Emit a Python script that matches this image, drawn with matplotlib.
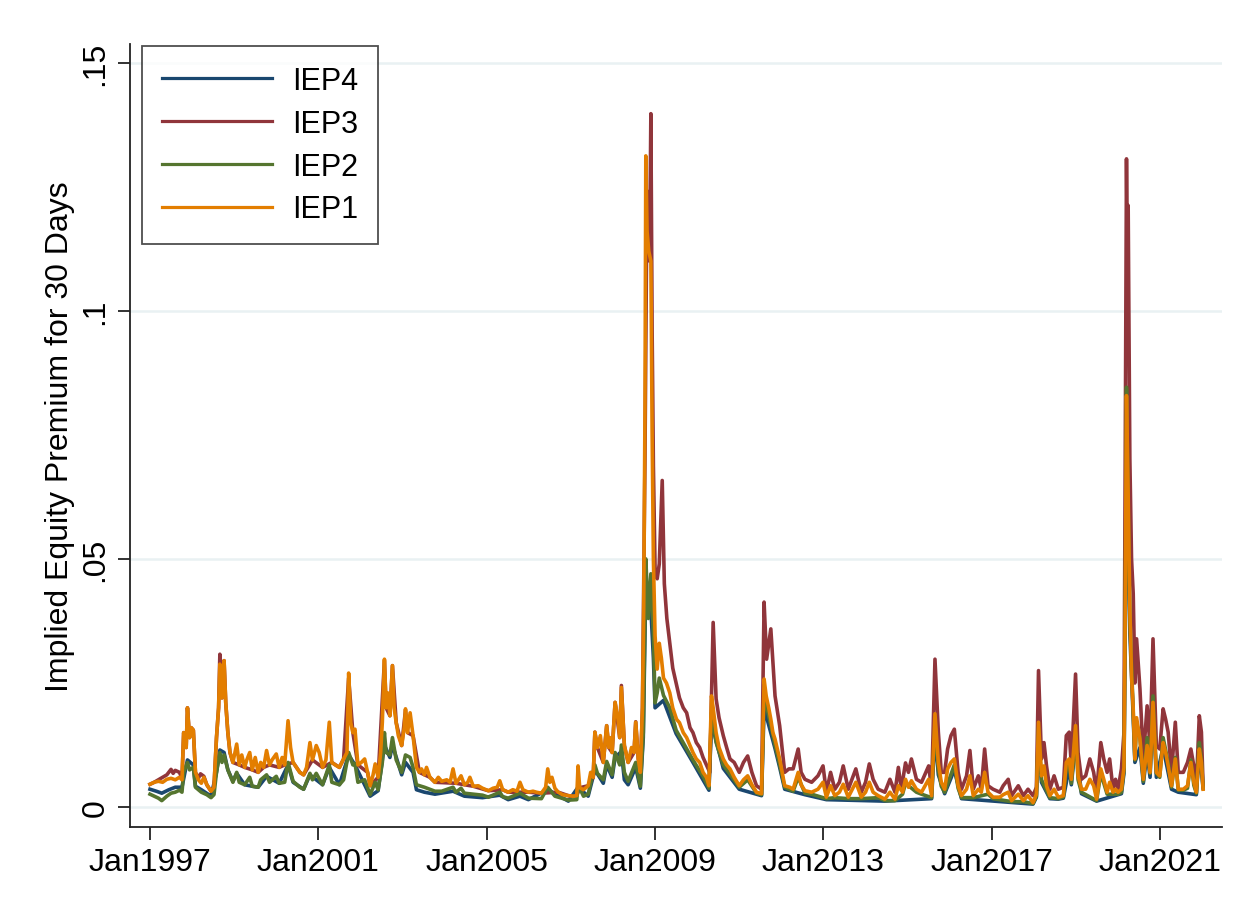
import matplotlib.pyplot as plt
import numpy as np

plt.rcParams['font.family'] = ['Liberation Sans', 'DejaVu Sans']

# ---------------- data (decimal years) ----------------

t1 = [1997.00, 1997.10, 1997.20, 1997.30, 1997.40, 1997.50, 1997.60, 1997.70, 1997.76, 1997.80,
      1997.86, 1997.89, 1997.94, 1997.98, 1998.03, 1998.08, 1998.15, 1998.22, 1998.28, 1998.35,
      1998.45, 1998.52, 1998.58, 1998.63, 1998.66, 1998.71, 1998.76, 1998.80, 1998.85, 1998.90,
      1998.97, 1999.06, 1999.12, 1999.18, 1999.25, 1999.30, 1999.37, 1999.43, 1999.50, 1999.57,
      1999.63, 1999.70, 1999.77, 1999.84, 1999.90, 2000.00, 2000.07, 2000.14, 2000.20, 2000.28,
      2000.34, 2000.40, 2000.48, 2000.56, 2000.65, 2000.72, 2000.80, 2000.86, 2000.95, 2001.02,
      2001.10, 2001.18, 2001.26, 2001.32, 2001.40, 2001.50, 2001.60, 2001.68, 2001.72, 2001.77,
      2001.82, 2001.87, 2001.94, 2002.02, 2002.10, 2002.17, 2002.23, 2002.30, 2002.35, 2002.42,
      2002.48, 2002.52, 2002.57, 2002.61, 2002.65, 2002.70, 2002.76, 2002.80, 2002.85, 2002.90,
      2002.98, 2003.04, 2003.07, 2003.12, 2003.18, 2003.25, 2003.33, 2003.40, 2003.45, 2003.52,
      2003.57, 2003.65, 2003.77, 2003.85, 2003.93, 2004.05, 2004.13, 2004.20, 2004.27, 2004.33,
      2004.39, 2004.47, 2004.55, 2004.60, 2004.68, 2004.80, 2004.90, 2005.04, 2005.15, 2005.25,
      2005.31, 2005.38, 2005.51, 2005.62, 2005.72, 2005.79, 2005.86, 2005.99, 2006.10, 2006.18,
      2006.30, 2006.40, 2006.45, 2006.50, 2006.55, 2006.62, 2006.70, 2006.80, 2006.94, 2007.05,
      2007.14, 2007.17, 2007.21, 2007.30, 2007.41, 2007.47, 2007.53, 2007.57, 2007.63, 2007.70,
      2007.77, 2007.85, 2007.90, 2007.93, 2007.98, 2008.05, 2008.12, 2008.16, 2008.20, 2008.27,
      2008.36, 2008.44, 2008.50, 2008.54, 2008.60, 2008.65, 2008.70, 2008.73, 2008.76, 2008.78,
      2008.81, 2008.85, 2008.90, 2008.93, 2008.96, 2009.00, 2009.05, 2009.10, 2009.15, 2009.20,
      2009.27, 2009.35, 2009.42, 2009.51, 2009.58, 2009.67, 2009.75, 2009.83, 2009.90, 2009.98,
      2010.06, 2010.14, 2010.22, 2010.28, 2010.34, 2010.38, 2010.45, 2010.52, 2010.62, 2010.70,
      2010.78, 2010.88, 2011.00, 2011.10, 2011.20, 2011.30, 2011.41, 2011.53, 2011.59, 2011.64,
      2011.70, 2011.75, 2011.80, 2011.85, 2011.96, 2012.08, 2012.20, 2012.28, 2012.40, 2012.47,
      2012.56, 2012.72, 2012.87, 2012.99, 2013.07, 2013.17, 2013.27, 2013.38, 2013.47, 2013.59,
      2013.77, 2013.90, 2014.00, 2014.09, 2014.18, 2014.30, 2014.46, 2014.58, 2014.70, 2014.78,
      2014.88, 2014.95, 2015.02, 2015.09, 2015.21, 2015.33, 2015.50, 2015.57, 2015.65, 2015.73,
      2015.80, 2015.88, 2015.95, 2016.03, 2016.11, 2016.20, 2016.28, 2016.40, 2016.48, 2016.56,
      2016.68, 2016.75, 2016.83, 2016.91, 2017.03, 2017.19, 2017.27, 2017.39, 2017.47, 2017.63,
      2017.75, 2017.86, 2017.98, 2018.06, 2018.11, 2018.18, 2018.24, 2018.30, 2018.38, 2018.48,
      2018.58, 2018.70, 2018.77, 2018.84, 2018.89, 2018.99, 2019.05, 2019.13, 2019.23, 2019.33,
      2019.42, 2019.49, 2019.59, 2019.66, 2019.74, 2019.80, 2019.88, 2019.94, 2020.00, 2020.08,
      2020.14, 2020.17, 2020.20, 2020.24, 2020.28, 2020.32, 2020.36, 2020.40, 2020.44, 2020.52,
      2020.60, 2020.69, 2020.76, 2020.83, 2020.91, 2020.99, 2021.07, 2021.13, 2021.19, 2021.27,
      2021.36, 2021.43, 2021.55, 2021.65, 2021.73, 2021.80, 2021.86, 2021.93, 2021.98, 2022.02]
iep1 = [0.0046, 0.0050, 0.0052, 0.0050, 0.0056, 0.0058, 0.0055, 0.0060, 0.0055, 0.0150,
        0.0120, 0.0200, 0.0140, 0.0160, 0.0155, 0.0070, 0.0055, 0.0048, 0.0060, 0.0045,
        0.0032, 0.0040, 0.0140, 0.0200, 0.0288, 0.0220, 0.0295, 0.0210, 0.0150, 0.0110,
        0.0090, 0.0127, 0.0085, 0.0105, 0.0080, 0.0095, 0.0110, 0.0075, 0.0100, 0.0070,
        0.0090, 0.0080, 0.0114, 0.0085, 0.0095, 0.0107, 0.0080, 0.0100, 0.0085, 0.0174,
        0.0120, 0.0090, 0.0080, 0.0070, 0.0065, 0.0080, 0.0130, 0.0095, 0.0124, 0.0110,
        0.0080, 0.0095, 0.0171, 0.0090, 0.0085, 0.0080, 0.0097, 0.0110, 0.0270, 0.0170,
        0.0150, 0.0157, 0.0085, 0.0090, 0.0097, 0.0070, 0.0043, 0.0065, 0.0087, 0.0060,
        0.0110, 0.0171, 0.0298, 0.0200, 0.0230, 0.0184, 0.0285, 0.0200, 0.0170, 0.0144,
        0.0124, 0.0160, 0.0198, 0.0150, 0.0190, 0.0144, 0.0080, 0.0070, 0.0077, 0.0065,
        0.0080, 0.0060, 0.0050, 0.0060, 0.0052, 0.0055, 0.0050, 0.0077, 0.0048, 0.0055,
        0.0063, 0.0045, 0.0050, 0.0060, 0.0042, 0.0043, 0.0038, 0.0033, 0.0038, 0.0040,
        0.0053, 0.0035, 0.0030, 0.0035, 0.0032, 0.0050, 0.0035, 0.0030, 0.0032, 0.0030,
        0.0028, 0.0040, 0.0077, 0.0050, 0.0060, 0.0038, 0.0030, 0.0025, 0.0023, 0.0022,
        0.0023, 0.0083, 0.0039, 0.0035, 0.0043, 0.0070, 0.0060, 0.0151, 0.0120, 0.0144,
        0.0090, 0.0164, 0.0120, 0.0140, 0.0110, 0.0211, 0.0177, 0.0140, 0.0241, 0.0124,
        0.0090, 0.0120, 0.0110, 0.0171, 0.0097, 0.0070, 0.0200, 0.0400, 0.0800, 0.1312,
        0.1160, 0.1120, 0.1100, 0.0756, 0.0500, 0.0345, 0.0278, 0.0330, 0.0300, 0.0260,
        0.0250, 0.0230, 0.0200, 0.0177, 0.0170, 0.0150, 0.0140, 0.0124, 0.0110, 0.0097,
        0.0090, 0.0070, 0.0060, 0.0043, 0.0224, 0.0200, 0.0150, 0.0120, 0.0097, 0.0085,
        0.0077, 0.0060, 0.0043, 0.0055, 0.0063, 0.0045, 0.0030, 0.0027, 0.0258, 0.0224,
        0.0200, 0.0177, 0.0150, 0.0137, 0.0097, 0.0043, 0.0040, 0.0036, 0.0070, 0.0045,
        0.0033, 0.0030, 0.0036, 0.0050, 0.0020, 0.0043, 0.0023, 0.0030, 0.0046, 0.0020,
        0.0050, 0.0020, 0.0030, 0.0050, 0.0030, 0.0023, 0.0016, 0.0030, 0.0016, 0.0043,
        0.0030, 0.0056, 0.0040, 0.0053, 0.0036, 0.0030, 0.0056, 0.0023, 0.0188, 0.0089,
        0.0050, 0.0036, 0.0077, 0.0090, 0.0097, 0.0043, 0.0023, 0.0036, 0.0063, 0.0023,
        0.0036, 0.0030, 0.0070, 0.0030, 0.0020, 0.0020, 0.0025, 0.0030, 0.0013, 0.0026,
        0.0013, 0.0023, 0.0009, 0.0026, 0.0171, 0.0063, 0.0083, 0.0043, 0.0023, 0.0036,
        0.0020, 0.0023, 0.0090, 0.0097, 0.0056, 0.0164, 0.0063, 0.0036, 0.0036, 0.0056,
        0.0043, 0.0016, 0.0077, 0.0056, 0.0030, 0.0050, 0.0030, 0.0036, 0.0030, 0.0036,
        0.0080, 0.0400, 0.0829, 0.0630, 0.0400, 0.0265, 0.0198, 0.0097, 0.0180, 0.0137,
        0.0056, 0.0124, 0.0070, 0.0211, 0.0070, 0.0063, 0.0130, 0.0110, 0.0083, 0.0043,
        0.0097, 0.0036, 0.0036, 0.0043, 0.0090, 0.0050, 0.0030, 0.0117, 0.0090, 0.0036]

t3 = [1997.00, 1997.10, 1997.20, 1997.30, 1997.40, 1997.50, 1997.55, 1997.60, 1997.70, 1997.76,
      1997.80, 1997.86, 1997.89, 1997.94, 1997.98, 1998.03, 1998.08, 1998.15, 1998.20, 1998.28,
      1998.35, 1998.45, 1998.52, 1998.58, 1998.63, 1998.66, 1998.71, 1998.76, 1998.80, 1998.85,
      1998.90, 1998.97, 1999.12, 1999.25, 1999.43, 1999.57, 1999.70, 1999.84, 2000.07, 2000.20,
      2000.40, 2000.56, 2000.65, 2000.86, 2001.10, 2001.32, 2001.50, 2001.60, 2001.72, 2001.82,
      2001.94, 2002.17, 2002.23, 2002.42, 2002.57, 2002.61, 2002.70, 2002.76, 2002.85, 2002.98,
      2003.07, 2003.12, 2003.25, 2003.40, 2003.65, 2003.77, 2004.27, 2004.47, 2004.68, 2005.04,
      2005.38, 2005.51, 2005.99, 2006.30, 2006.70, 2006.94, 2007.05, 2007.14, 2007.21, 2007.41,
      2007.53, 2007.57, 2007.63, 2007.77, 2007.85, 2007.90, 2007.98, 2008.05, 2008.16, 2008.20,
      2008.27, 2008.36, 2008.50, 2008.54, 2008.60, 2008.65,
      2008.70, 2008.76, 2008.80, 2008.84, 2008.87, 2008.90, 2008.93, 2008.96,
      2009.00, 2009.05, 2009.10, 2009.17, 2009.22, 2009.28, 2009.35, 2009.42, 2009.50, 2009.58,
      2009.67, 2009.75, 2009.83, 2009.90, 2009.98, 2010.06, 2010.14, 2010.22, 2010.30, 2010.38,
      2010.45, 2010.52, 2010.62, 2010.70, 2010.78, 2010.88, 2011.00, 2011.10, 2011.20, 2011.30,
      2011.41, 2011.53, 2011.59, 2011.65, 2011.75, 2011.85, 2011.96, 2012.08, 2012.18, 2012.28,
      2012.40, 2012.47, 2012.56, 2012.72, 2012.87, 2012.99, 2013.07, 2013.17, 2013.27, 2013.38,
      2013.47, 2013.59, 2013.77, 2013.90, 2014.00, 2014.09, 2014.18, 2014.30, 2014.46, 2014.58,
      2014.70, 2014.78, 2014.85, 2014.95, 2015.02, 2015.09, 2015.21, 2015.33, 2015.50, 2015.57,
      2015.65, 2015.73, 2015.80, 2015.88, 2015.95, 2016.03, 2016.11, 2016.20, 2016.28, 2016.40,
      2016.48, 2016.56, 2016.68, 2016.75, 2016.83, 2016.91, 2017.03, 2017.19, 2017.27, 2017.39,
      2017.47, 2017.63, 2017.75, 2017.86, 2017.98, 2018.06, 2018.11, 2018.18, 2018.24, 2018.30,
      2018.38, 2018.48, 2018.58, 2018.70, 2018.77, 2018.84, 2018.89, 2018.99, 2019.05, 2019.13,
      2019.23, 2019.33, 2019.42, 2019.49, 2019.59, 2019.66, 2019.74, 2019.80, 2019.88, 2019.94,
      2020.00, 2020.08, 2020.14, 2020.17, 2020.20, 2020.23, 2020.24, 2020.26, 2020.28, 2020.32,
      2020.36, 2020.40, 2020.44, 2020.52, 2020.60, 2020.69, 2020.76, 2020.83, 2020.91, 2020.99,
      2021.07, 2021.13, 2021.19, 2021.27, 2021.36, 2021.43, 2021.55, 2021.65, 2021.73, 2021.80,
      2021.86, 2021.93, 2021.98, 2022.02]
iep3 = [0.0046, 0.0050, 0.0055, 0.0060, 0.0065, 0.0076, 0.0068, 0.0074, 0.0070, 0.0058,
        0.0150, 0.0120, 0.0200, 0.0140, 0.0160, 0.0155, 0.0070, 0.0058, 0.0067, 0.0062,
        0.0045, 0.0032, 0.0040, 0.0140, 0.0200, 0.0308, 0.0220, 0.0295, 0.0210, 0.0150,
        0.0110, 0.0090, 0.0085, 0.0080, 0.0075, 0.0070, 0.0080, 0.0085, 0.0080, 0.0085,
        0.0090, 0.0070, 0.0065, 0.0095, 0.0080, 0.0090, 0.0080, 0.0097, 0.0260, 0.0150,
        0.0085, 0.0070, 0.0043, 0.0060, 0.0295, 0.0200, 0.0184, 0.0285, 0.0170, 0.0124,
        0.0195, 0.0150, 0.0144, 0.0070, 0.0060, 0.0050, 0.0048, 0.0045, 0.0042, 0.0033,
        0.0035, 0.0030, 0.0030, 0.0028, 0.0030, 0.0023, 0.0022, 0.0023, 0.0039, 0.0043,
        0.0060, 0.0151, 0.0120, 0.0090, 0.0164, 0.0120, 0.0110, 0.0211, 0.0140, 0.0245,
        0.0124, 0.0090, 0.0110, 0.0172, 0.0097, 0.0070,
        0.0200, 0.0700, 0.1150, 0.1240, 0.1100, 0.1397, 0.0960, 0.0688,
        0.0480, 0.0460, 0.0490, 0.0658, 0.0450, 0.0380, 0.0330, 0.0280, 0.0250, 0.0220,
        0.0200, 0.0190, 0.0160, 0.0150, 0.0130, 0.0120, 0.0100, 0.0085, 0.0070, 0.0372,
        0.0218, 0.0180, 0.0144, 0.0120, 0.0097, 0.0090, 0.0070, 0.0090, 0.0103, 0.0070,
        0.0043, 0.0036, 0.0413, 0.0298, 0.0359, 0.0224, 0.0164, 0.0070, 0.0077, 0.0077,
        0.0117, 0.0070, 0.0056, 0.0050, 0.0063, 0.0083, 0.0030, 0.0070, 0.0036, 0.0050,
        0.0083, 0.0036, 0.0077, 0.0030, 0.0050, 0.0087, 0.0056, 0.0036, 0.0030, 0.0056,
        0.0030, 0.0080, 0.0036, 0.0089, 0.0070, 0.0097, 0.0056, 0.0050, 0.0083, 0.0036,
        0.0298, 0.0151, 0.0070, 0.0070, 0.0117, 0.0144, 0.0157, 0.0070, 0.0036, 0.0063,
        0.0114, 0.0036, 0.0063, 0.0036, 0.0117, 0.0043, 0.0036, 0.0030, 0.0043, 0.0056,
        0.0023, 0.0043, 0.0023, 0.0036, 0.0023, 0.0040, 0.0275, 0.0097, 0.0130, 0.0083,
        0.0036, 0.0063, 0.0036, 0.0040, 0.0144, 0.0151, 0.0083, 0.0268, 0.0110, 0.0056,
        0.0063, 0.0097, 0.0070, 0.0030, 0.0130, 0.0097, 0.0070, 0.0097, 0.0036, 0.0056,
        0.0036, 0.0077, 0.0150, 0.0700, 0.1306, 0.1000, 0.1212, 0.0950, 0.0701, 0.0500,
        0.0430, 0.0250, 0.0339, 0.0238, 0.0097, 0.0204, 0.0120, 0.0339, 0.0124, 0.0117,
        0.0198, 0.0177, 0.0151, 0.0070, 0.0171, 0.0070, 0.0070, 0.0090, 0.0117, 0.0083,
        0.0043, 0.0184, 0.0151, 0.0043]

t2 = [1997.00, 1997.10, 1997.20, 1997.28, 1997.40, 1997.50, 1997.60, 1997.70, 1997.76, 1997.80,
      1997.89, 1997.94, 1998.03, 1998.08, 1998.22, 1998.35, 1998.45, 1998.52, 1998.58, 1998.66,
      1998.71, 1998.76, 1998.85, 1998.97, 1999.06, 1999.12, 1999.25, 1999.37, 1999.43, 1999.57,
      1999.63, 1999.77, 1999.84, 2000.00, 2000.07, 2000.20, 2000.28, 2000.40, 2000.56, 2000.65,
      2000.80, 2000.86, 2000.95, 2001.10, 2001.26, 2001.32, 2001.50, 2001.60, 2001.72, 2001.82,
      2001.87, 2001.94, 2002.10, 2002.23, 2002.35, 2002.42, 2002.52, 2002.57, 2002.61, 2002.70,
      2002.76, 2002.85, 2002.98, 2003.07, 2003.18, 2003.25, 2003.33, 2003.52, 2003.77, 2003.93,
      2004.20, 2004.27, 2004.39, 2004.47, 2004.68, 2004.90, 2005.04, 2005.31, 2005.38, 2005.51,
      2005.79, 2005.99, 2006.30, 2006.45, 2006.62, 2006.94, 2007.14, 2007.17, 2007.30, 2007.41,
      2007.57, 2007.63, 2007.77, 2007.85, 2007.98, 2008.05, 2008.16, 2008.20, 2008.27, 2008.36,
      2008.54, 2008.65, 2008.72, 2008.78, 2008.84, 2008.90, 2008.96, 2009.00, 2009.05, 2009.10,
      2009.20, 2009.35, 2009.50, 2009.70, 2009.90, 2010.14, 2010.28, 2010.34, 2010.45, 2010.62,
      2010.88, 2011.00, 2011.20, 2011.41, 2011.53, 2011.59, 2011.75, 2011.85, 2011.96, 2012.08,
      2012.28, 2012.40, 2012.56, 2012.72, 2013.07, 2013.27, 2013.59, 2013.90, 2014.30, 2014.46,
      2014.70, 2014.88, 2014.95, 2015.21, 2015.33, 2015.57, 2015.65, 2015.73, 2015.80, 2015.88,
      2016.11, 2016.20, 2016.28, 2016.56, 2016.91, 2017.03, 2017.47, 2017.75, 2017.98, 2018.06,
      2018.11, 2018.18, 2018.38, 2018.58, 2018.70, 2018.77, 2018.84, 2018.89, 2018.99, 2019.05,
      2019.13, 2019.49, 2019.59, 2019.74, 2019.88, 2020.00, 2020.08, 2020.14, 2020.17, 2020.20,
      2020.24, 2020.28, 2020.36, 2020.40, 2020.44, 2020.52, 2020.60, 2020.69, 2020.76, 2020.83,
      2020.91, 2020.99, 2021.07, 2021.19, 2021.27, 2021.36, 2021.43, 2021.55, 2021.65, 2021.73,
      2021.80, 2021.86, 2021.93, 2021.98, 2022.02]
iep2 = [0.0026, 0.0022, 0.0018, 0.0013, 0.0022, 0.0028, 0.0030, 0.0034, 0.0030, 0.0070,
        0.0090, 0.0075, 0.0080, 0.0040, 0.0030, 0.0025, 0.0019, 0.0025, 0.0070, 0.0110,
        0.0090, 0.0105, 0.0075, 0.0050, 0.0070, 0.0050, 0.0045, 0.0060, 0.0042, 0.0040,
        0.0055, 0.0065, 0.0050, 0.0062, 0.0048, 0.0050, 0.0090, 0.0052, 0.0040, 0.0036,
        0.0068, 0.0055, 0.0068, 0.0045, 0.0085, 0.0050, 0.0045, 0.0055, 0.0110, 0.0085,
        0.0088, 0.0050, 0.0055, 0.0025, 0.0050, 0.0035, 0.0090, 0.0150, 0.0110, 0.0105,
        0.0140, 0.0095, 0.0070, 0.0105, 0.0100, 0.0080, 0.0045, 0.0040, 0.0032, 0.0032,
        0.0040, 0.0030, 0.0038, 0.0028, 0.0026, 0.0024, 0.0020, 0.0030, 0.0021, 0.0018,
        0.0028, 0.0018, 0.0017, 0.0040, 0.0022, 0.0014, 0.0015, 0.0045, 0.0022, 0.0026,
        0.0085, 0.0068, 0.0055, 0.0092, 0.0065, 0.0110, 0.0085, 0.0125, 0.0070, 0.0052,
        0.0090, 0.0042, 0.0150, 0.0500, 0.0380, 0.0470, 0.0350, 0.0210, 0.0230, 0.0260,
        0.0225, 0.0200, 0.0155, 0.0125, 0.0095, 0.0062, 0.0038, 0.0190, 0.0130, 0.0085,
        0.0054, 0.0040, 0.0055, 0.0028, 0.0025, 0.0225, 0.0165, 0.0125, 0.0086, 0.0040,
        0.0032, 0.0060, 0.0028, 0.0026, 0.0017, 0.0019, 0.0017, 0.0017, 0.0019, 0.0013,
        0.0013, 0.0026, 0.0048, 0.0030, 0.0026, 0.0019, 0.0170, 0.0075, 0.0042, 0.0030,
        0.0085, 0.0038, 0.0019, 0.0019, 0.0026, 0.0017, 0.0011, 0.0011, 0.0007, 0.0022,
        0.0160, 0.0055, 0.0019, 0.0017, 0.0020, 0.0080, 0.0085, 0.0048, 0.0150, 0.0055,
        0.0030, 0.0013, 0.0068, 0.0026, 0.0026, 0.0026, 0.0030, 0.0075, 0.0380, 0.0846,
        0.0600, 0.0380, 0.0190, 0.0095, 0.0170, 0.0140, 0.0052, 0.0140, 0.0068, 0.0224,
        0.0068, 0.0060, 0.0140, 0.0090, 0.0040, 0.0100, 0.0034, 0.0034, 0.0038, 0.0095,
        0.0044, 0.0028, 0.0130, 0.0095, 0.0040]

t4 = [1997.00, 1997.15, 1997.28, 1997.45, 1997.60, 1997.76, 1997.89, 1998.03, 1998.08, 1998.22,
      1998.45, 1998.58, 1998.66, 1998.76, 1998.85, 1998.97, 1999.06, 1999.25, 1999.43, 1999.57,
      1999.77, 2000.07, 2000.28, 2000.40, 2000.65, 2000.80, 2001.10, 2001.26, 2001.50, 2001.72,
      2001.87, 2002.23, 2002.42, 2002.57, 2002.70, 2002.76, 2002.98, 2003.07, 2003.25, 2003.33,
      2003.52, 2003.77, 2004.20, 2004.47, 2004.90, 2005.31, 2005.51, 2005.79, 2005.99, 2006.45,
      2006.94, 2007.17, 2007.41, 2007.57, 2007.77, 2007.85, 2007.98, 2008.05, 2008.20, 2008.27,
      2008.36, 2008.54, 2008.65, 2008.72, 2008.78, 2008.90, 2008.96, 2009.00, 2009.20, 2009.50,
      2009.90, 2010.28, 2010.34, 2010.62, 2011.00, 2011.53, 2011.59, 2011.85, 2011.96, 2012.08,
      2012.56, 2013.07, 2014.46, 2015.57, 2015.65, 2015.73, 2015.88, 2016.11, 2016.28, 2017.98,
      2018.06, 2018.11, 2018.18, 2018.38, 2018.58, 2018.70, 2018.84, 2018.89, 2018.99, 2019.13,
      2019.49, 2020.08, 2020.14, 2020.17, 2020.20, 2020.24, 2020.28, 2020.36, 2020.40, 2020.52,
      2020.60, 2020.69, 2020.76, 2020.83, 2020.91, 2021.07, 2021.27, 2021.43, 2021.86, 2021.93,
      2022.02]
iep4 = [0.0036, 0.0032, 0.0028, 0.0035, 0.0040, 0.0040, 0.0095, 0.0085, 0.0042, 0.0035,
        0.0022, 0.0070, 0.0115, 0.0110, 0.0075, 0.0052, 0.0068, 0.0045, 0.0042, 0.0040,
        0.0062, 0.0048, 0.0085, 0.0050, 0.0036, 0.0065, 0.0045, 0.0080, 0.0045, 0.0105,
        0.0085, 0.0022, 0.0033, 0.0125, 0.0100, 0.0125, 0.0065, 0.0090, 0.0070, 0.0035,
        0.0030, 0.0026, 0.0032, 0.0022, 0.0019, 0.0024, 0.0015, 0.0022, 0.0015, 0.0035,
        0.0012, 0.0040, 0.0022, 0.0075, 0.0048, 0.0085, 0.0060, 0.0100, 0.0112, 0.0055,
        0.0045, 0.0080, 0.0038, 0.0140, 0.0450, 0.0400, 0.0300, 0.0200, 0.0215, 0.0148,
        0.0090, 0.0034, 0.0170, 0.0078, 0.0036, 0.0023, 0.0200, 0.0118, 0.0080, 0.0036,
        0.0025, 0.0015, 0.0012, 0.0017, 0.0150, 0.0065, 0.0027, 0.0075, 0.0017, 0.0006,
        0.0020, 0.0140, 0.0050, 0.0017, 0.0016, 0.0018, 0.0080, 0.0045, 0.0130, 0.0027,
        0.0012, 0.0027, 0.0068, 0.0350, 0.0800, 0.0560, 0.0350, 0.0180, 0.0090, 0.0120,
        0.0048, 0.0110, 0.0060, 0.0200, 0.0060, 0.0120, 0.0036, 0.0030, 0.0025, 0.0115,
        0.0038]

xticks = [1997, 2001, 2005, 2009, 2013, 2017, 2021]
xlabels = ['Jan' + str(y) for y in xticks]
yticks = [0, 0.05, 0.1, 0.15]
ylabels = ['0', '.05', '.1', '.15']

# Stata s2color
navy = '#1a476f'
maroon = '#90353b'
green = '#55752f'
orange = '#e37e00'

fig = plt.figure(figsize=(12.44, 9.12), dpi=100)
ax = fig.add_axes([0.1045, 0.092, 0.8775, 0.859])

for y in yticks:
    ax.axhline(y, color='#e9f1f3', lw=1.8, zorder=0)

lw = 2.6
ax.plot(t4, iep4, color=navy, lw=lw, label='IEP4')
ax.plot(t3, iep3, color=maroon, lw=lw, label='IEP3')
ax.plot(t2, iep2, color=green, lw=lw, label='IEP2')
ax.plot(t1, iep1, color=orange, lw=lw, label='IEP1')

ax.set_xlim(1996.525, 2022.46)
ax.set_ylim(-0.00403, 0.1538)
ax.set_xticks(xticks)
ax.set_xticklabels(xlabels, fontsize=23)
ax.set_yticks(yticks)
ax.set_yticklabels(ylabels, fontsize=23, rotation=90, va='center')
ax.set_ylabel('Implied Equity Premium for 30 Days', fontsize=23, labelpad=4)

for s in ['top', 'right']:
    ax.spines[s].set_visible(False)
for s in ['left', 'bottom']:
    ax.spines[s].set_linewidth(1.3)
    ax.spines[s].set_color('#222222')
ax.tick_params(direction='out', length=9, width=1.3, color='#222222', pad=5)

leg = ax.legend(loc='upper left', bbox_to_anchor=(0.011, 0.997), borderaxespad=0,
                fontsize=22, frameon=True, fancybox=False, edgecolor='#222222',
                handlelength=3.6, handletextpad=0.65, borderpad=0.65, labelspacing=0.42)
leg.get_frame().set_linewidth(1.3)
for line in leg.get_lines():
    line.set_linewidth(2.3)

plt.savefig('out.png', dpi=100)
